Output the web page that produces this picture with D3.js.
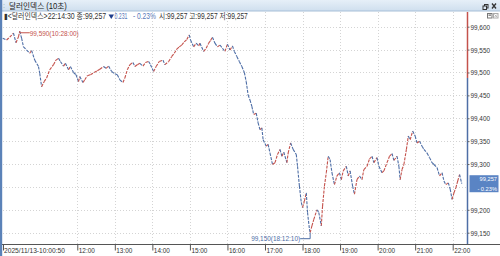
<!DOCTYPE html>
<html>
<head>
<meta charset="utf-8">
<script src="https://cdn.jsdelivr.net/npm/d3@7"></script>
<style>
  body { margin: 0; background: #fff; }
  svg { display: block; }
  text { font-family: 'Liberation Sans', 'Noto Sans CJK KR', sans-serif; }
</style>
</head>
<body>
<svg id="chart" width="500" height="256"></svg>
<script>
// dollar index, 10 sec ticks, 2025/11/13
const times = [
  '10:00:50', '10:07', '10:12', '10:18', '10:22', '10:26', '10:28', '10:31', '10:34', '10:39',
  '10:44', '10:47', '10:52', '10:58', '11:00', '11:03', '11:07', '11:11', '11:16', '11:22',
  '11:26', '11:30', '11:33', '11:38', '11:41', '11:46', '11:49', '11:54', '11:58', '12:02',
  '12:04', '12:09', '12:12', '12:16', '12:21', '12:27', '12:32', '12:36', '12:42', '12:46',
  '12:50', '12:55', '13:00', '13:04', '13:08', '13:13', '13:16', '13:20', '13:24', '13:29',
  '13:32', '13:36', '13:40', '13:45', '13:49', '13:54', '13:57', '14:02', '14:06', '14:11',
  '14:17', '14:20', '14:26', '14:31', '14:35', '14:39', '14:43', '14:47', '14:51', '14:55',
  '14:59', '15:01', '15:06', '15:10', '15:14', '15:16', '15:22', '15:26', '15:30', '15:33',
  '15:36', '15:40', '15:44', '15:48', '15:52', '15:56', '16:00', '16:04', '16:08', '16:11',
  '16:15', '16:19', '16:23', '16:27', '16:30', '16:33', '16:36', '16:39', '16:42', '16:46',
  '16:49', '16:52', '16:55', '16:57', '17:02', '17:05', '17:08', '17:12', '17:16', '17:20',
  '17:24', '17:27', '17:30', '17:35', '17:37', '17:41', '17:45', '17:50', '17:52', '17:55',
  '17:58', '18:00', '18:03', '18:06', '18:08', '18:11', '18:12:10', '18:15', '18:18', '18:23',
  '18:26', '18:30', '18:32', '18:35', '18:38', '18:41', '18:44', '18:47', '18:51', '18:55',
  '18:59', '19:02', '19:05', '19:10', '19:13', '19:16', '19:20', '19:23', '19:27', '19:31',
  '19:35', '19:38', '19:43', '19:47', '19:51', '19:54', '19:59', '20:02', '20:07', '20:10',
  '20:15', '20:19', '20:23', '20:26', '20:31', '20:34', '20:36', '20:39', '20:42', '20:46',
  '20:49', '20:52', '20:56', '21:00', '21:03', '21:07', '21:11', '21:14', '21:19', '21:23',
  '21:27', '21:30', '21:35', '21:39', '21:43', '21:46', '21:49', '21:53', '21:56', '21:59',
  '22:02', '22:05', '22:08', '22:11', '22:14:30'
]
const values = [
  99575, 99571, 99577, 99586, 99565, 99578, 99590, 99575, 99556, 99549,
  99542, 99548, 99527, 99513, 99498, 99469, 99480, 99488, 99506, 99517,
  99527, 99531, 99524, 99514, 99520, 99506, 99513, 99500, 99495, 99480,
  99491, 99478, 99484, 99493, 99495, 99500, 99504, 99507, 99513, 99509,
  99514, 99502, 99497, 99495, 99484, 99478, 99488, 99506, 99517, 99522,
  99513, 99517, 99520, 99514, 99522, 99524, 99517, 99502, 99513, 99524,
  99527, 99517, 99524, 99535, 99542, 99551, 99556, 99560, 99567, 99572,
  99582, 99571, 99556, 99564, 99558, 99564, 99546, 99553, 99564, 99570,
  99577, 99564, 99556, 99560, 99553, 99546, 99562, 99549, 99558, 99546,
  99535, 99524, 99513, 99500, 99480, 99451, 99440, 99426, 99408, 99411,
  99390, 99375, 99379, 99353, 99339, 99343, 99324, 99299, 99303, 99321,
  99332, 99317, 99326, 99303, 99324, 99346, 99332, 99321, 99295, 99252,
  99216, 99205, 99219, 99237, 99194, 99158, 99150, 99165, 99179, 99200,
  99194, 99165, 99208, 99252, 99281, 99317, 99310, 99281, 99255, 99274,
  99281, 99266, 99285, 99295, 99274, 99285, 99252, 99234, 99266, 99274,
  99266, 99288, 99295, 99311, 99317, 99303, 99314, 99295, 99281, 99285,
  99303, 99317, 99323, 99308, 99317, 99295, 99266, 99288, 99299, 99332,
  99361, 99353, 99372, 99361, 99346, 99350, 99339, 99332, 99324, 99314,
  99303, 99299, 99292, 99274, 99281, 99263, 99255, 99259, 99245, 99223,
  99237, 99248, 99263, 99277, 99257
]
const yTicks = [99150, 99200, 99250, 99300, 99350, 99400, 99450, 99500, 99550, 99600]
const hourTicks = ['12:00', '13:00', '14:00', '15:00', '16:00', '17:00', '18:00', '19:00', '20:00', '21:00', '22:00']
const prevClose = 99488
const title = '달러인덱스 (10초)'
const firstLabel = '2025/11/13-10:00:50'
const infoParts = [
  { text: '▮<달러인덱스>22:14:30 종:99,257', x: 4, w: 102, color: '#333' },
  { text: '0.231', x: 114.5, w: 13, color: '#5a78b8' },
  { text: '- 0.23%', x: 133, w: 23, color: '#5a78b8' },
  { text: '시:99,257 고:99,257 저:99,257', x: 159, w: 89, color: '#333' }
]

const red = '#c4524c'
const blue = '#4e6ea6'
const day = '2025-11-13T'
const parse = (t) => new Date(day + (t.length === 5 ? t + ':00' : t))
const data = times.map((t, i) => ({ time: parse(t), v: values[i] }))

const svg = d3.select('#chart')
const axisX = 467.5
const bottom = 244.5
const fs = 7.8

// the HTS font is narrow: scale text horizontally around its anchor x
const scaleX = (node, k) => {
  const ax = +node.getAttribute('x') || 0
  node.setAttribute('transform', `translate(${ax},0) scale(${k},1) translate(${-ax},0)`)
}
const squeeze = (sel, k) => sel.each(function () { scaleX(this, k) })
const fit = (sel, w) => sel.each(function () { scaleX(this, w / this.getComputedTextLength()) })

const x = d3.scaleTime()
  .domain([parse('10:00'), parse('22:00')])
  .range([2.2, 452.7])
const y = d3.scaleLinear()
  .domain([99150, 99600])
  .range([232.7, 26.7])

const last = data[data.length - 1]
const ly = y(last.v)

// title bar
const grad = svg.append('defs').append('linearGradient')
  .attr('id', 'tb').attr('x1', 0).attr('y1', 0).attr('x2', 0).attr('y2', 1)
grad.append('stop').attr('offset', 0).attr('stop-color', '#e6eff8')
grad.append('stop').attr('offset', 1).attr('stop-color', '#cfdfee')
svg.append('rect').attr('width', 500).attr('height', 11).attr('fill', 'url(#tb)')
svg.append('line').attr('x1', 0).attr('x2', 500).attr('y1', 11).attr('y2', 11)
  .attr('stroke', '#a7bfd8')
svg.append('text').attr('x', 3).attr('y', 8).attr('font-size', 7)
  .attr('fill', '#8aa').text(':')
svg.append('text').attr('x', 9).attr('y', 9).attr('font-size', 8.5)
  .attr('fill', '#222').text(title).call(fit, 58)
// restore / close icons
svg.append('rect').attr('x', 484.5).attr('y', 4.5).attr('width', 3.5).attr('height', 3.5)
  .attr('fill', 'none').attr('stroke', '#333')
svg.append('rect').attr('x', 483).attr('y', 6).attr('width', 3.5).attr('height', 3.5)
  .attr('fill', '#dbe7f3').attr('stroke', '#333')
svg.append('path').attr('d', 'M492,3.5L496,8.5M496,3.5L492,8.5')
  .attr('stroke', '#333').attr('stroke-width', 1.3)

// left border
svg.append('rect').attr('x', 0).attr('y', 0).attr('width', 2.2).attr('height', 256)
  .attr('fill', '#5b82b8')

// small window buttons
svg.append('rect').attr('x', 487.5).attr('y', 13.5).attr('width', 4.5).attr('height', 4.5)
  .attr('fill', '#fff').attr('stroke', '#777')
svg.append('rect').attr('x', 488.5).attr('y', 14.5).attr('width', 2.5).attr('height', 1.3)
  .attr('fill', '#777')
svg.append('rect').attr('x', 493.5).attr('y', 13.5).attr('width', 4.5).attr('height', 4.5)
  .attr('fill', '#fff').attr('stroke', '#aaa')
svg.append('path').attr('d', 'M494.5,14.5L497,17M497,14.5L494.5,17')
  .attr('stroke', '#aaa').attr('stroke-width', 0.8)

// grid
const grid = svg.append('g').attr('stroke', '#d4d4d4').attr('stroke-dasharray', '1,2')
grid.selectAll('.hg').data(yTicks).join('line')
  .attr('x1', 3).attr('x2', axisX)
  .attr('y1', (d) => Math.round(y(d)) + 0.5).attr('y2', (d) => Math.round(y(d)) + 0.5)
grid.selectAll('.vg').data(hourTicks).join('line')
  .attr('x1', (d) => Math.round(x(parse(d))) + 0.5).attr('x2', (d) => Math.round(x(parse(d))) + 0.5)
  .attr('y1', 12).attr('y2', bottom)

// info line
svg.append('g').selectAll('text').data(infoParts).join('text')
  .attr('x', (d) => d.x).attr('y', 19.5).attr('font-size', 8.3)
  .attr('fill', (d) => d.color).text((d) => d.text)
  .each(function (d) { d3.select(this).call(fit, d.w) })
// down triangle
svg.append('path').attr('d', 'M108.5,14.5H114L111.25,19Z').attr('fill', '#1f3d8c')

// price line, coloured by tick direction
const line = d3.line().x((d) => x(d.time)).y((d) => y(d.v))
const pairs = d3.pairs(data)
svg.append('g').attr('fill', 'none').attr('stroke-width', 1.1)
  .attr('stroke-dasharray', '3,1.2')
  .selectAll('path').data(pairs).join('path')
  .attr('stroke', ([a, b]) => (b.v >= a.v ? red : blue))
  .attr('d', (p) => line(p))

// high / low markers
const hi = data[d3.maxIndex(data, (d) => d.v)]
const lo = data[d3.minIndex(data, (d) => d.v)]
const fmt = d3.format(',')
const hms = d3.timeFormat('%H:%M:%S')
svg.append('path').attr('fill', 'none').attr('stroke', red)
  .attr('d', `M${x(hi.time)},${y(hi.v)}V${y(hi.v) + 1.5}H${x(hi.time) + 10}`)
svg.append('text').attr('x', x(hi.time) + 10).attr('y', y(hi.v) + 4.3)
  .attr('font-size', fs).attr('fill', red)
  .text(`${fmt(hi.v)}(${hms(hi.time)})`).call(fit, 49)
svg.append('path').attr('fill', 'none').attr('stroke', blue)
  .attr('d', `M${x(lo.time)},${y(lo.v)}V${y(lo.v) + 6}H${x(lo.time) - 10}`)
svg.append('text').attr('x', x(lo.time) - 59).attr('y', y(lo.v) + 8.8)
  .attr('font-size', fs).attr('fill', blue)
  .text(`${fmt(lo.v)}(${hms(lo.time)})`).call(fit, 49)

// right axis: red above previous close, blue below
svg.append('line').attr('x1', axisX).attr('x2', axisX).attr('y1', 12).attr('y2', y(prevClose))
  .attr('stroke', red).attr('stroke-width', 1.5)
svg.append('line').attr('x1', axisX).attr('x2', axisX).attr('y1', y(prevClose)).attr('y2', bottom)
  .attr('stroke', blue).attr('stroke-width', 1.5)
// labels hidden under the current price box are skipped
const shownTicks = yTicks.filter((v) => Math.abs(y(v) - ly) > 10)
const yAxis = svg.append('g').attr('transform', `translate(${axisX},0)`)
  .call(d3.axisRight(y).tickValues(shownTicks).tickFormat(fmt).tickSize(2).tickPadding(1))
yAxis.select('.domain').remove()
yAxis.selectAll('line').attr('stroke', '#666')
yAxis.selectAll('text').attr('font-size', fs).attr('fill', '#333')
  .attr('font-family', null).call(squeeze, 0.82)

// current price box
svg.append('rect').attr('x', 469.5).attr('y', ly - 8.5).attr('width', 29).attr('height', 17)
  .attr('fill', '#5a84c4')
svg.append('text').attr('x', 497).attr('y', ly - 2.3).attr('text-anchor', 'end')
  .attr('font-size', 6.2).attr('fill', '#fff').text(fmt(last.v)).call(squeeze, 0.92)
svg.append('text').attr('x', 497).attr('y', ly + 6.8).attr('text-anchor', 'end')
  .attr('font-size', 6.2).attr('fill', '#fff').text('- 0.23%').call(squeeze, 0.92)

// bottom axis
svg.append('line').attr('x1', 2).attr('x2', 500).attr('y1', bottom).attr('y2', bottom)
  .attr('stroke', '#555')
const xAxis = svg.append('g').attr('transform', `translate(0,${bottom})`)
  .call(d3.axisBottom(x).tickValues(hourTicks.map(parse))
    .tickFormat(d3.timeFormat('%H:%M')).tickSize(6).tickSizeOuter(0))
xAxis.select('.domain').remove()
xAxis.selectAll('line').attr('stroke', '#555')
xAxis.selectAll('text').attr('text-anchor', 'start').attr('x', 1).attr('y', 2.5)
  .attr('font-size', fs).attr('fill', '#333')
  .attr('font-family', null).call(squeeze, 0.82)
svg.append('line').attr('x1', 3.5).attr('x2', 3.5).attr('y1', bottom).attr('y2', bottom + 6)
  .attr('stroke', '#555')
svg.append('text').attr('x', 4).attr('y', bottom + 8.3).attr('font-size', fs)
  .attr('fill', '#333').text(firstLabel).call(fit, 61)
</script>
</body>
</html>
